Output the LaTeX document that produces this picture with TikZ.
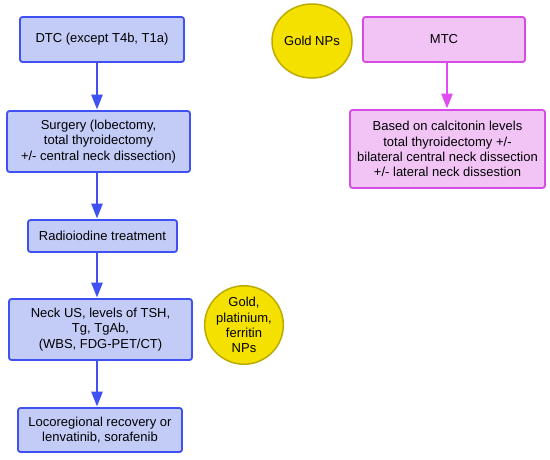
\documentclass[tikz,border=0pt]{standalone}
\usepackage{fontspec}
\setmainfont{Liberation Sans}
\usetikzlibrary{shapes.geometric,arrows.meta}
\definecolor{bfill}{HTML}{C3CBF7}
\definecolor{bline}{HTML}{3F51F2}
\definecolor{pfill}{HTML}{F2C4F6}
\definecolor{pline}{HTML}{D54BE3}
\definecolor{parrow}{HTML}{E14CF2}
\definecolor{yfill}{HTML}{F5E100}
\definecolor{yline}{HTML}{BCAC00}
\tikzset{
  txt/.style={font=\fontsize{13}{15.3}\selectfont, align=center, text=black},
  bbox/.style={txt, draw=bline, fill=bfill, line width=1.8pt, rounded corners=2.5pt, inner sep=0pt},
  pbox/.style={txt, draw=pline, fill=pfill, line width=1.8pt, rounded corners=2.5pt, inner sep=0pt},
  ybub/.style={txt, ellipse, draw=yline, fill=yfill, line width=1.5pt, inner sep=0pt},
  barrow/.style={draw=bline, line width=2.6pt, -{Triangle[length=15pt,width=11pt]}, shorten >=0.5pt},
  parr/.style={draw=parrow, line width=2.6pt, -{Triangle[length=15pt,width=11pt]}, shorten >=0.5pt},
}
\begin{document}
\begin{tikzpicture}[x=1pt,y=-1pt]
\useasboundingbox (0,0) rectangle (550,459);
\fill[white] (0,0) rectangle (550,459);
\coordinate (bx) at (97,0);
\coordinate (px) at (447,0);
\node[bbox, minimum width=164pt, minimum height=45pt] (dtc) at (102,39.5) {DTC (except T4b, T1a)};
\node[bbox, minimum width=183pt, minimum height=61pt] (surg) at (98.5,141.5) {Surgery (lobectomy,\\total thyroidectomy\\+/- central neck dissection)};
\node[bbox, minimum width=149pt, minimum height=32pt] (rai) at (102.5,236) {Radioiodine treatment};
\node[bbox, minimum width=183pt, minimum height=61pt] (neck) at (100.5,329.5) {Neck US, levels of TSH,\\Tg, TgAb,\\(WBS, FDG-PET/CT)};
\node[bbox, minimum width=164pt, minimum height=44pt] (loco) at (100,430) {Locoregional recovery or\\lenvatinib, sorafenib};
\node[ybub, minimum width=80pt, minimum height=74pt] (gold1) at (312,41) {Gold NPs};
\node[ybub, minimum width=77pt, minimum height=77pt] (gold2) at (244,325) {Gold,\\platinium,\\ferritin\\NPs};
\node[pbox, minimum width=162pt, minimum height=45pt] (mtc) at (444,39.5) {MTC};
\node[pbox, minimum width=195pt, minimum height=78pt] (calc) at (447.5,149) {Based on calcitonin levels\\total thyroidectomy +/-\\bilateral central neck dissection\\+/- lateral neck dissestion};
\draw[barrow] (dtc.south -| bx) -- (surg.north -| bx);
\draw[barrow] (surg.south -| bx) -- (rai.north -| bx);
\draw[barrow] (rai.south -| bx) -- (neck.north -| bx);
\draw[barrow] (neck.south -| bx) -- (loco.north -| bx);
\draw[parr] (mtc.south -| px) -- (calc.north -| px);
\end{tikzpicture}
\end{document}
